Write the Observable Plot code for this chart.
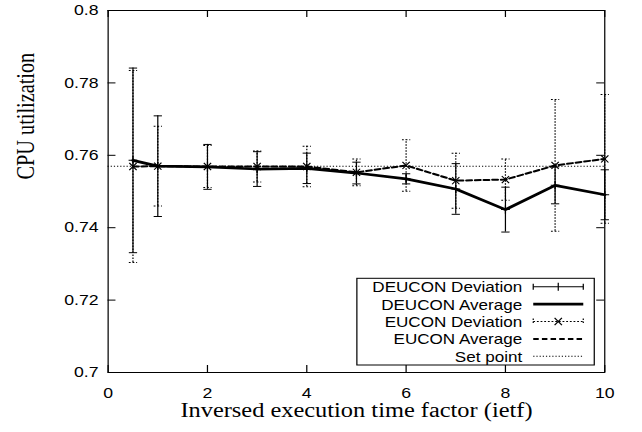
<!DOCTYPE html>
<html><head><meta charset="utf-8">
<script src="https://cdn.jsdelivr.net/npm/d3@7"></script>
<script src="https://cdn.jsdelivr.net/npm/@observablehq/plot@0.6"></script>
<style>html,body{margin:0;padding:0;background:#fff;overflow:hidden}#chart{width:642px;height:432px;overflow:hidden}</style>
</head><body><div id="chart"></div>
<script>
// ---- data ----
const ietf = [0.5, 1, 2, 3, 4, 5, 6, 7, 8, 9, 10];
const deuconAvg = [0.7586, 0.7570, 0.7568, 0.7562, 0.7564, 0.7551, 0.7535, 0.7507, 0.7450, 0.7517, 0.7491];
const deuconDev = [0.0255, 0.0139, 0.0062, 0.0048, 0.0042, 0.0030, 0.0014, 0.0070, 0.0062, 0.0051, 0.0069];
const euconAvg  = [0.7569, 0.7570, 0.7569, 0.7569, 0.7569, 0.7553, 0.7572, 0.7530, 0.7533, 0.7572, 0.7590];
const euconDev  = [0.0265, 0.0110, 0.0058, 0.0043, 0.0056, 0.0037, 0.0071, 0.0076, 0.0057, 0.0182, 0.0178];
const setPoint = [0.757];
const xTicks = [0, 2, 4, 6, 8, 10];
const xTickLabels = ["0", "2", "4", "6", "8", "10"];
const yTicks = [0.7, 0.72, 0.74, 0.76, 0.78, 0.8];
const yTickLabels = ["0.7", "0.72", "0.74", "0.76", "0.78", "0.8"];
const legendLabels = ["DEUCON Deviation", "DEUCON Average", "EUCON Deviation", "EUCON Average", "Set point"];
const xTitle = "Inversed execution time factor (ietf)";
const yTitle = "CPU utilization";

// ---- layout ----
const SX = 1.2205;            // horizontal stretch of the reference picture
const W = 526, H = 432;
const mL = 88.1, mR = 31, mT = 10, mB = 60;
const fw = W - mL - mR, fh = H - mT - mB;
const sans = "'Liberation Sans', Arial, Helvetica, sans-serif";
const serif = "'Liberation Serif', 'Times New Roman', Times, serif";

const deucon = ietf.map((x, i) => ({x, y: deuconAvg[i], lo: deuconAvg[i] - deuconDev[i], hi: deuconAvg[i] + deuconDev[i]}));
const eucon = ietf.map((x, i) => ({x, y: euconAvg[i], lo: euconAvg[i] - euconDev[i], hi: euconAvg[i] + euconDev[i]}));

function hLine(hw) { return {draw(ctx) { ctx.moveTo(-hw, 0); ctx.lineTo(hw, 0); }}; }
const capSym = hLine(3.4);
const plusSym = {draw(ctx) { ctx.moveTo(-3.6, 0); ctx.lineTo(3.6, 0); ctx.moveTo(0, -4.2); ctx.lineTo(0, 4.2); }};
const crossSym = {draw(ctx) { const a = 3, b = 3.6; ctx.moveTo(-a, -b); ctx.lineTo(a, b); ctx.moveTo(-a, b); ctx.lineTo(a, -b); }};

const dotted = "1.5,1.5";

const plot = Plot.plot({
  width: W, height: H,
  marginLeft: mL, marginRight: mR, marginTop: mT, marginBottom: mB,
  style: {fontFamily: sans, fontSize: "14.5px", background: "white", color: "black", overflow: "visible"},
  x: {domain: [0, 10]},
  y: {domain: [0.7, 0.8]},
  marks: [
    Plot.ruleY(setPoint, {y: d => d, stroke: "black", strokeWidth: 1, strokeDasharray: "1,1.6"}),
    // EUCON deviation (dotted error bars with x marks)
    Plot.ruleX(eucon, {x: "x", y1: "lo", y2: "hi", stroke: "black", strokeWidth: 1, strokeDasharray: dotted}),
    Plot.dot(eucon, {x: "x", y: "lo", symbol: capSym, fill: "none", stroke: "black", strokeWidth: 1, strokeDasharray: dotted}),
    Plot.dot(eucon, {x: "x", y: "hi", symbol: capSym, fill: "none", stroke: "black", strokeWidth: 1, strokeDasharray: dotted}),
    // EUCON average
    Plot.line(eucon, {x: "x", y: "y", stroke: "black", strokeWidth: 2, strokeDasharray: "4.5,2.6"}),
    Plot.dot(eucon, {x: "x", y: "y", symbol: crossSym, fill: "none", stroke: "black", strokeWidth: 1}),
    // DEUCON deviation (solid error bars with + marks)
    Plot.ruleX(deucon, {x: "x", y1: "lo", y2: "hi", stroke: "black", strokeWidth: 1}),
    Plot.dot(deucon, {x: "x", y: "lo", symbol: capSym, fill: "none", stroke: "black", strokeWidth: 1}),
    Plot.dot(deucon, {x: "x", y: "hi", symbol: capSym, fill: "none", stroke: "black", strokeWidth: 1}),
    Plot.dot(deucon, {x: "x", y: "y", symbol: plusSym, fill: "none", stroke: "black", strokeWidth: 1}),
    // DEUCON average
    Plot.line(deucon, {x: "x", y: "y", stroke: "black", strokeWidth: 2.7}),
    // frame and inward ticks on all sides
    Plot.frame({stroke: "black", strokeWidth: 1}),
    Plot.tickX(xTicks, {x: d => d, stroke: "black", insetTop: fh - 7}),
    Plot.tickX(xTicks, {x: d => d, stroke: "black", insetBottom: fh - 7}),
    Plot.tickY(yTicks, {y: d => d, stroke: "black", insetRight: fw - 6.5}),
    Plot.tickY(yTicks, {y: d => d, stroke: "black", insetLeft: fw - 6.5}),
    // tick labels
    Plot.axisX({ticks: xTicks, tickSize: 0, tickPadding: 15, label: null,
      tickFormat: d => xTickLabels[xTicks.indexOf(d)]}),
    Plot.axisY({ticks: yTicks, tickSize: 0, tickPadding: 7.8, label: null,
      tickFormat: d => yTickLabels[yTicks.indexOf(d)]}),
    // axis titles
    Plot.text([xTitle], {text: d => d, frameAnchor: "bottom", dy: 38, lineAnchor: "middle",
      fontFamily: serif, fontSize: 20, fill: "black"}),
    Plot.text([yTitle], {text: d => d, frameAnchor: "left", rotate: -90, dx: -67.4, dy: -12, lineAnchor: "middle",
      fontFamily: serif, fontSize: 20.3, fill: "black"})
  ]
});

// ---- legend (key box) ----
const svg = d3.select(plot);
const key = svg.append("g").attr("fill", "none").attr("stroke", "black");
const boxX = 292.4, boxY = 278.3, boxW = 194.5, boxH = 86.7;
key.append("rect").attr("x", boxX).attr("y", boxY).attr("width", boxW).attr("height", boxH).attr("stroke-width", 1);
const textRight = 427.9, s0 = 436.9, s1 = 477.9, base0 = 292.3, step = 17.4;
legendLabels.forEach((lab, i) => {
  const b = base0 + i * step, yc = b - 5.6;
  svg.append("text").attr("x", textRight).attr("y", b).attr("text-anchor", "end")
    .attr("font-family", sans).attr("font-size", 14).attr("fill", "black").text(lab);
  const ln = (x1, y1, x2, y2) => key.append("line").attr("x1", x1).attr("y1", y1).attr("x2", x2).attr("y2", y2);
  const mid = (s0 + s1) / 2;
  if (i === 0) {
    ln(s0, yc, s1, yc); ln(s0, yc - 3, s0, yc + 3); ln(s1, yc - 3, s1, yc + 3);
    ln(mid, yc - 4, mid, yc + 4);
  } else if (i === 1) {
    ln(s0, yc, s1, yc).attr("stroke-width", 2.7);
  } else if (i === 2) {
    ln(s0, yc, s1, yc).attr("stroke-dasharray", dotted);
    ln(s0, yc - 3, s0, yc + 3).attr("stroke-dasharray", dotted);
    ln(s1, yc - 3, s1, yc + 3).attr("stroke-dasharray", dotted);
    ln(mid - 3, yc - 3.6, mid + 3, yc + 3.6); ln(mid - 3, yc + 3.6, mid + 3, yc - 3.6);
  } else if (i === 3) {
    ln(s0, yc, s1, yc).attr("stroke-width", 2).attr("stroke-dasharray", "4.5,2.6");
  } else {
    ln(s0, yc, s1, yc).attr("stroke-dasharray", "1,1.6");
  }
});

plot.style.transformOrigin = "0 0";
plot.style.transform = `scaleX(${SX})`;
plot.style.maxWidth = "none";
document.getElementById("chart").appendChild(plot);
</script>
</body></html>
